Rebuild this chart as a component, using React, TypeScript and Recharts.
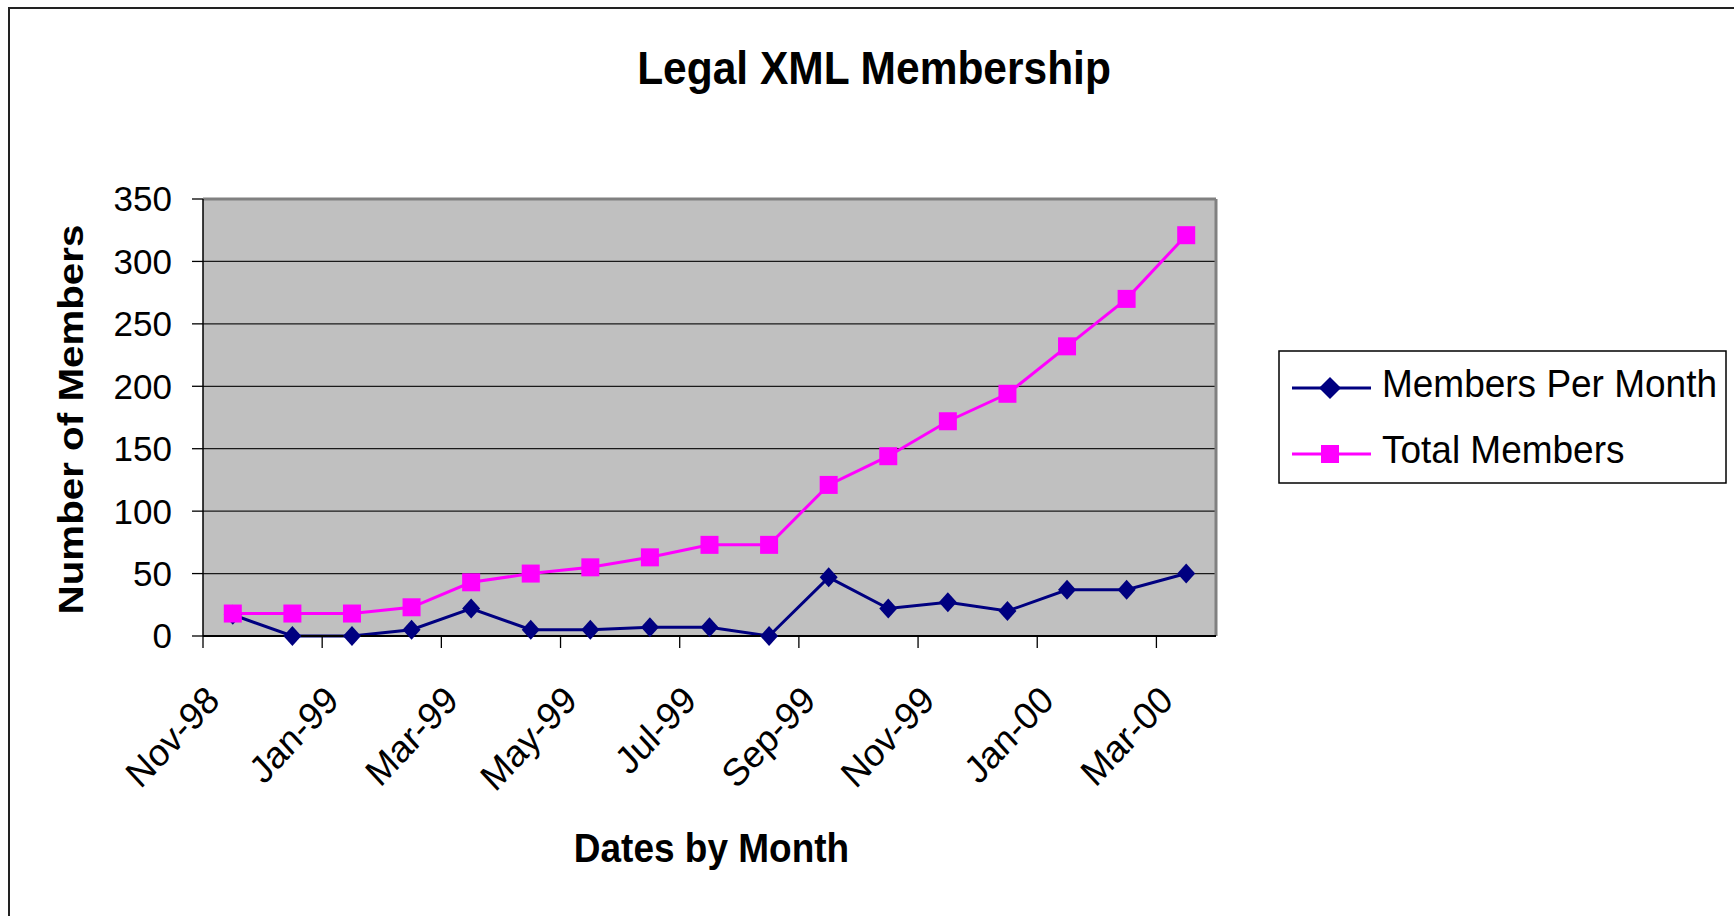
import { LineChart, Line, XAxis, YAxis, CartesianGrid, Legend, ReferenceLine } from 'recharts';

const months = [
  'Nov-98', 'Dec-98', 'Jan-99', 'Feb-99', 'Mar-99', 'Apr-99', 'May-99', 'Jun-99', 'Jul-99',
  'Aug-99', 'Sep-99', 'Oct-99', 'Nov-99', 'Dec-99', 'Jan-00', 'Feb-00', 'Mar-00',
];
const membersPerMonth = [17, 0, 0, 5, 22, 5, 5, 7, 7, 0, 47, 22, 27, 20, 37, 37, 50];
const totalMembers = [18, 18, 18, 23, 43, 50, 55, 63, 73, 73, 121, 144, 172, 194, 232, 270, 321];
const yTicks = [0, 50, 100, 150, 200, 250, 300, 350];
const xTickLabels = ['Nov-98', 'Jan-99', 'Mar-99', 'May-99', 'Jul-99', 'Sep-99', 'Nov-99', 'Jan-00', 'Mar-00'];

const FONT = '"Liberation Sans", Arial, Helvetica, sans-serif';
const NAVY = '#000080';
const PINK = '#FF00FF';
const LEGEND_W = 449;

// each month sits in the middle of its slot, ticks sit on slot boundaries
const data = months.map((m, i) => ({
  month: m,
  pos: i + 0.5,
  perMonth: membersPerMonth[i],
  total: totalMembers[i],
}));
const xTicks = xTickLabels.map((l) => months.indexOf(l));

function XTick(props: any) {
  const { x, y, payload } = props;
  const ax = x + 18.5;
  const ay = y + 54.5;
  return (
    <text
      x={0}
      y={0}
      textAnchor="end"
      transform={`translate(${ax}, ${ay}) scale(1, 1.08) rotate(-45)`}
      fontSize={35.5}
      fontFamily={FONT}
      fill="#000"
    >
      {months[payload.value]}
    </text>
  );
}

function diamond(cx: number, cy: number, w = 9, h = 10) {
  return `M${cx},${cy - h} L${cx + w},${cy} L${cx},${cy + h} L${cx - w},${cy} Z`;
}

const renderDiamond = (props: any) => {
  const { cx, cy, index } = props;
  return <path key={`dm-${index}`} d={diamond(cx, cy)} fill={NAVY} stroke="none" />;
};

const renderSquare = (props: any) => {
  const { cx, cy, index } = props;
  return <rect key={`sq-${index}`} x={cx - 9} y={cy - 9} width={18} height={18} fill={PINK} stroke="none" />;
};

function LegendBox(props: any) {
  const items = props.payload || [];
  return (
    <svg width={LEGEND_W} height={134} style={{ display: 'block' }}>
      <rect x={1} y={1} width={447} height={132} fill="#fff" stroke="#000" strokeWidth={1.5} />
      {items.map((item: any, i: number) => {
        const cy = i === 0 ? 38 : 104;
        const color = item.color;
        return (
          <g key={item.value}>
            <line x1={14} x2={93} y1={cy} y2={cy} stroke={color} strokeWidth={3} />
            {i === 0 ? (
              <path d={diamond(52, cy, 11, 11)} fill={color} />
            ) : (
              <rect x={43} y={cy - 9} width={18} height={18} fill={color} />
            )}
            <text
              x={104}
              y={cy + 9}
              fontSize={37}
              fontFamily={FONT}
              fill="#000"
              transform={`translate(0, ${cy + 9}) scale(1, 1.07) translate(0, ${-(cy + 9)})`}
            >
              {item.value}
            </text>
          </g>
        );
      })}
    </svg>
  );
}

const XTitle = (props: any) => {
  const { viewBox } = props;
  const cx = viewBox.x + viewBox.width / 2 + 2;
  const by = viewBox.y + 226;
  return (
    <text
      x={0}
      y={0}
      transform={`translate(${cx}, ${by}) scale(1, 1.08)`}
      textAnchor="middle"
      fontSize={37}
      fontWeight="bold"
      fontFamily={FONT}
      fill="#000"
    >
      Dates by Month
    </text>
  );
};

const YTitle = (props: any) => {
  const { viewBox } = props;
  const bx = 83;
  const cy = viewBox.y + viewBox.height / 2 + 2;
  return (
    <text
      x={0}
      y={0}
      transform={`translate(${bx}, ${cy}) scale(1, 1.12) rotate(-90)`}
      textAnchor="middle"
      fontSize={36}
      fontWeight="bold"
      fontFamily={FONT}
      fill="#000"
    >
      Number of Members
    </text>
  );
};

export default function App() {
  return (
    <div style={{ position: 'absolute', left: 0, top: 0, width: 1734, height: 916, overflow: 'hidden', background: '#fff' }}>
      <LineChart
        width={1734}
        height={916}
        data={data}
        margin={{ top: 199, right: 518 - LEGEND_W, left: 143, bottom: 220 }}
        style={{ fontFamily: FONT }}
      >
        <CartesianGrid vertical={false} fill="#C0C0C0" stroke="#1a1a1a" strokeWidth={1.3} />
        <XAxis
          type="number"
          dataKey="pos"
          domain={[0, 17]}
          ticks={xTicks}
          interval={0}
          height={60}
          tickSize={12}
          tickMargin={0}
          tick={<XTick />}
          tickLine={{ stroke: '#000', strokeWidth: 1.3 }}
          axisLine={{ stroke: '#000', strokeWidth: 2 }}
          allowDecimals={false}
          label={<XTitle />}
        />
        <YAxis
          type="number"
          domain={[0, 350]}
          ticks={yTicks}
          interval={0}
          width={60}
          tickSize={11}
          tickMargin={20}
          tick={{ fontSize: 35, fill: '#000', fontFamily: FONT }}
          tickLine={{ stroke: '#000', strokeWidth: 1.3 }}
          axisLine={{ stroke: '#000', strokeWidth: 1.5 }}
          label={<YTitle />}
        />
        <ReferenceLine y={350} stroke="#808080" strokeWidth={3} ifOverflow="visible" />
        <ReferenceLine x={17} stroke="#808080" strokeWidth={3} ifOverflow="visible" />
        <Legend
          layout="vertical"
          align="right"
          verticalAlign="top"
          content={<LegendBox />}
          wrapperStyle={{ position: 'absolute', left: 1278, top: 350, width: LEGEND_W, height: 134 }}
        />
        <Line
          type="linear"
          dataKey="perMonth"
          name="Members Per Month"
          stroke={NAVY}
          strokeWidth={3}
          dot={renderDiamond}
          activeDot={false}
          isAnimationActive={false}
        />
        <Line
          type="linear"
          dataKey="total"
          name="Total Members"
          stroke={PINK}
          strokeWidth={3}
          dot={renderSquare}
          activeDot={false}
          isAnimationActive={false}
        />
      </LineChart>
      <svg
        width={1734}
        height={916}
        style={{ position: 'absolute', left: 0, top: 0, pointerEvents: 'none' }}
      >
        <path d="M9,916 L9,8 L1734,8" fill="none" stroke="#222" strokeWidth={2} />
        <text
          x={0}
          y={0}
          transform="translate(874, 84) scale(1, 1.08)"
          textAnchor="middle"
          fontSize={42.5}
          fontWeight="bold"
          fontFamily={FONT}
          fill="#000"
        >
          Legal XML Membership
        </text>
      </svg>
    </div>
  );
}
